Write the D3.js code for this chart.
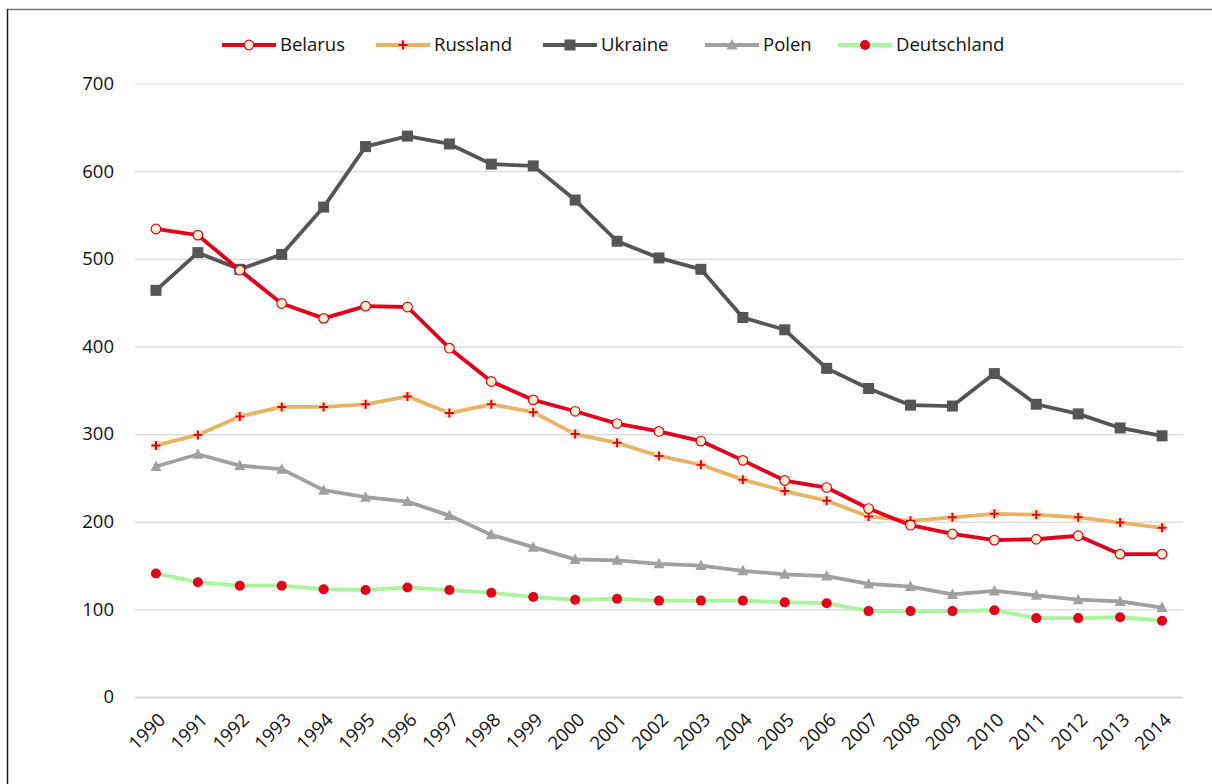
<!DOCTYPE html>
<html>
<head>
<meta charset="utf-8">
<script src="https://cdn.jsdelivr.net/npm/d3@7"></script>
<style>
  body { margin: 0; background: #fff; }
  svg text { font-family: "Open Sans", "Noto Sans", sans-serif; fill: #111; }
  .tick text { font-size: 18.5px; }
</style>
</head>
<body>
<svg id="chart"></svg>
<script>
// years on the x axis
const years = d3.range(1990, 2015).map(String);

const belarus = [534, 527, 487, 449, 432, 446, 445, 398, 360, 339, 326, 312, 303, 292, 270, 247, 239, 215, 196, 186, 179, 180, 184, 163, 163];
const russland = [287, 299, 320, 331, 331, 334, 343, 324, 334, 325, 300, 290, 275, 265, 248, 235, 224, 206, 201, 205, 209, 208, 205, 199, 193];
const ukraine = [464, 507, 488, 505, 559, 628, 640, 631, 608, 606, 567, 520, 501, 488, 433, 419, 375, 352, 333, 332, 369, 334, 323, 307, 298];
const polen = [263, 277, 264, 260, 236, 228, 223, 207, 185, 171, 157, 156, 152, 150, 144, 140, 138, 129, 126, 117, 121, 116, 111, 109, 102];
const deutschland = [141, 131, 127, 127, 123, 122, 125, 122, 119, 114, 111, 112, 110, 110, 110, 108, 107, 98, 98, 98, 99, 90, 90, 91, 87];

const yTicks = [0, 100, 200, 300, 400, 500, 600, 700];

const series = [
  {name: 'Belarus', values: belarus, color: '#e2001a', marker: 'circle'},
  {name: 'Russland', values: russland, color: '#e8b464', marker: 'plus'},
  {name: 'Ukraine', values: ukraine, color: '#555555', marker: 'square'},
  {name: 'Polen', values: polen, color: '#a0a0a0', marker: 'triangle'},
  {name: 'Deutschland', values: deutschland, color: '#a8f59b', marker: 'dot'}
];

const width = 1212, height = 784;
const margin = {top: 83.5, right: 29, bottom: 87, left: 135};
const innerW = width - margin.left - margin.right;
const innerH = height - margin.top - margin.bottom;

const svg = d3.select('#chart')
    .attr('width', width)
    .attr('height', height);

// outer frame (only top and left edges fall inside the picture)
svg.append('line')
    .attr('x1', 7).attr('x2', width).attr('y1', 9.5).attr('y2', 9.5)
    .attr('stroke', '#777').attr('stroke-width', 1.5);
svg.append('line')
    .attr('x1', 7.5).attr('x2', 7.5).attr('y1', 9).attr('y2', height)
    .attr('stroke', '#222').attr('stroke-width', 1.5);

const chart = svg.append('g')
    .attr('transform', `translate(${margin.left},${margin.top})`);

const xScale = d3.scalePoint()
    .domain(years)
    .range([0, innerW])
    .padding(0.5);

const yScale = d3.scaleLinear()
    .domain([0, 700])
    .range([innerH, 0]);

// gridlines + y labels
const yAxis = d3.axisLeft(yScale)
    .tickValues(yTicks)
    .tickSize(-innerW)
    .tickPadding(21);

chart.append('g')
    .attr('class', 'axis y-axis')
    .call(yAxis)
    .call(g => g.select('.domain').remove())
    .call(g => g.selectAll('.tick line').attr('stroke', '#d9d9d9').attr('stroke-width', 1.2))
    .call(g => g.selectAll('.tick:first-of-type line').attr('stroke-width', 2));

// x labels rotated
const xAxis = d3.axisBottom(xScale).tickSize(0).tickPadding(0);

chart.append('g')
    .attr('class', 'axis x-axis')
    .attr('transform', `translate(0,${innerH})`)
    .call(xAxis)
    .call(g => g.select('.domain').remove())
    .call(g => g.selectAll('.tick text')
        .attr('text-anchor', 'end')
        .attr('dy', 0)
        .attr('transform', 'translate(10,24) rotate(-45)'));

const line = d3.line()
    .x((d, i) => xScale(years[i]))
    .y(d => yScale(d));

function drawMarker(g, type, color) {
  if (type === 'circle') {
    g.append('circle').attr('r', 4.8).attr('fill', '#fcefd0').attr('stroke', color).attr('stroke-width', 1.2);
  } else if (type === 'plus') {
    g.append('rect').attr('x', -4.5).attr('y', -4.5).attr('width', 9).attr('height', 9).attr('fill', '#f8dfb4');
    g.append('path').attr('d', 'M-4.5,0H4.5M0,-4.5V4.5').attr('stroke', '#e2001a').attr('stroke-width', 2);
  } else if (type === 'square') {
    g.append('rect').attr('x', -5.5).attr('y', -5.5).attr('width', 11).attr('height', 11).attr('fill', color);
  } else if (type === 'triangle') {
    g.append('path').attr('d', 'M0,-6L5.5,4.5H-5.5Z').attr('fill', color);
  } else if (type === 'dot') {
    g.append('circle').attr('r', 5).attr('fill', '#e2001a');
  }
}

// draw series back to front so Belarus sits on top
[...series].reverse().forEach(s => {
  const g = chart.append('g').attr('class', 'series');
  g.append('path')
      .datum(s.values)
      .attr('d', line)
      .attr('fill', 'none')
      .attr('stroke', s.color)
      .attr('stroke-width', 3.8)
      .attr('stroke-linejoin', 'round');
  g.selectAll('.pt')
      .data(s.values)
    .join('g')
      .attr('class', 'pt')
      .attr('transform', (d, i) => `translate(${xScale(years[i])},${yScale(d)})`)
      .each(function() { drawMarker(d3.select(this), s.marker, s.color); });
});

// legend
const legendX = [222, 376, 543, 705, 838];
const legend = svg.append('g').attr('transform', 'translate(0,45)');
series.forEach((s, i) => {
  const item = legend.append('g').attr('transform', `translate(${legendX[i]},0)`);
  item.append('line')
      .attr('x1', 0).attr('x2', 54)
      .attr('stroke', s.color)
      .attr('stroke-width', 4);
  drawMarker(item.append('g').attr('transform', 'translate(27,0)'), s.marker, s.color);
  item.append('text')
      .attr('x', 58)
      .attr('dy', '0.35em')
      .attr('font-size', 18.5)
      .text(s.name);
});
</script>
</body>
</html>
